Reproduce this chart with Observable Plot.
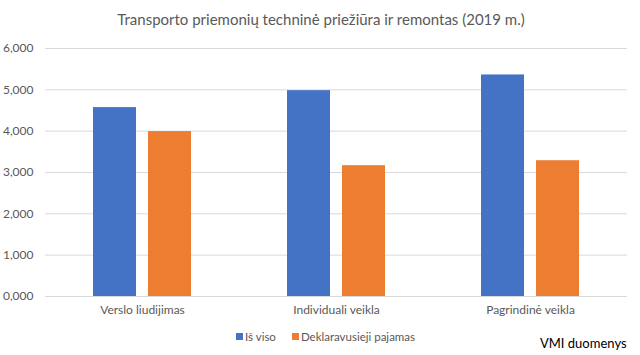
<!DOCTYPE html>
<html>
<head>
<meta charset="utf-8">
<script src="https://cdn.jsdelivr.net/npm/d3@7"></script>
<script src="https://cdn.jsdelivr.net/npm/@observablehq/plot@0.6"></script>
<style>
  html, body { margin: 0; padding: 0; background: #fff; }
  #wrap { position: relative; width: 640px; height: 355px; font-family: Lato, "Liberation Sans", sans-serif; }
  #title { position: absolute; left: 0; width: 642px; top: 10px; text-align: center; font-size: 15px; color: #595959; }
  #legend { position: absolute; top: 330px; left: 236px; font-size: 11.5px; color: #595959; display: flex; align-items: center; }
  #legend span.sw { display: inline-block; width: 7px; height: 7px; margin-right: 2px; }
  #legend span.item { display: inline-flex; align-items: center; margin-right: 16px; }
  #source { position: absolute; top: 335px; left: 540px; font-size: 13px; color: #000; }
  #chart { position: absolute; top: 0; left: 0; }
</style>
</head>
<body>
<div id="wrap">
  <div id="chart"></div>
  <div id="title"></div>
  <div id="legend"></div>
  <div id="source"></div>
</div>
<script>
const titleText = "Transporto priemonių techninė priežiūra ir remontas (2019 m.)";
const sourceText = "VMI duomenys";
const categories = ["Verslo liudijimas", "Individuali veikla", "Pagrindinė veikla"];
const seriesNames = ["Iš viso", "Deklaravusieji pajamas"];
const seriesColors = ["#4472C4", "#ED7D31"];
const isViso = [4.57, 4.98, 5.36];
const deklaravusieji = [3.99, 3.165, 3.285];
const yTicks = [0, 1, 2, 3, 4, 5, 6];

const data = [];
categories.forEach((c, i) => {
  data.push({category: c, series: seriesNames[0], value: isViso[i]});
  data.push({category: c, series: seriesNames[1], value: deklaravusieji[i]});
});

const fmt = v => d3.format(".3f")(v).replace(".", ",");

const chart = Plot.plot({
  width: 640,
  height: 355,
  marginTop: 48,
  marginBottom: 59,
  marginLeft: 45,
  marginRight: 13,
  style: {fontFamily: "Lato, 'Liberation Sans', sans-serif", fontSize: "12px", color: "#595959", background: "transparent"},
  fx: {domain: categories, padding: 0, label: null, axis: null},
  x: {domain: seriesNames, paddingInner: 0.216, paddingOuter: 0.856, axis: null},
  y: {domain: [0, 6], ticks: yTicks, tickFormat: fmt, label: null, axis: null},
  color: {domain: seriesNames, range: seriesColors},
  marks: [
    Plot.ruleY(yTicks, {stroke: "#D9D9D9", strokeWidth: 1}),
    Plot.barY(data, {fx: "category", x: "series", y: "value", fill: "series"}),
    Plot.axisY({ticks: yTicks, tickFormat: fmt, tickSize: 0, tickPadding: 12, fontSize: 12, fill: "#595959", label: null}),
    Plot.axisFx({anchor: "bottom", tickSize: 0, tickPadding: 9, fontSize: 12, fill: "#595959", label: null})
  ]
});
document.getElementById("chart").appendChild(chart);
document.getElementById("title").textContent = titleText;
document.getElementById("source").textContent = sourceText;
const legend = document.getElementById("legend");
seriesNames.forEach((s, i) => {
  const item = document.createElement("span");
  item.className = "item";
  const sw = document.createElement("span");
  sw.className = "sw";
  sw.style.background = seriesColors[i];
  item.appendChild(sw);
  item.appendChild(document.createTextNode(s));
  legend.appendChild(item);
});
</script>
</body>
</html>
